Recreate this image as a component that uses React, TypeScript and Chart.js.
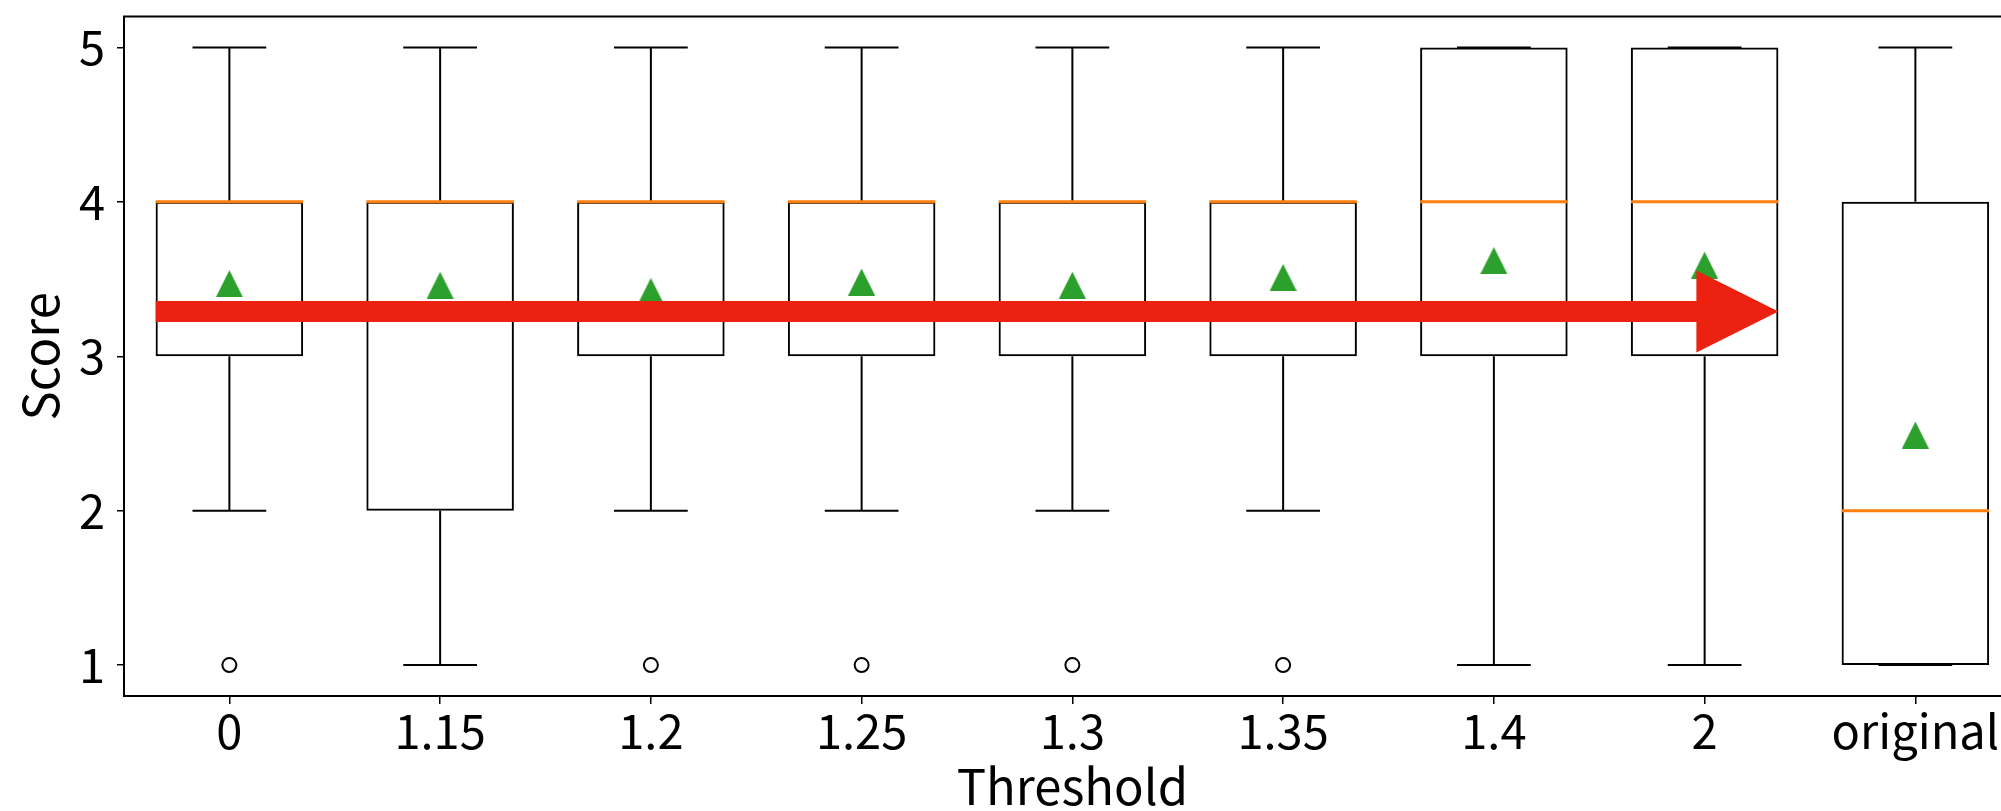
import React, { useEffect, useRef } from 'react';
import { Chart, registerables } from 'chart.js';

Chart.register(...registerables);

// ---- data ----
const CATEGORIES = ['0', '1.15', '1.2', '1.25', '1.3', '1.35', '1.4', '2', 'original'];
const WHISKER_LOW = [2, 1, 2, 2, 2, 2, 1, 1, 1];
const Q1 = [3, 2, 3, 3, 3, 3, 3, 3, 1];
const MEDIAN = [4, 4, 4, 4, 4, 4, 4, 4, 2];
const Q3 = [4, 4, 4, 4, 4, 4, 5, 5, 4];
const WHISKER_HIGH = [5, 5, 5, 5, 5, 5, 5, 5, 5];
const MEANS = [3.47, 3.46, 3.42, 3.48, 3.46, 3.51, 3.62, 3.59, 2.49];
const OUTLIERS = [[1], [], [1], [1], [1], [1], [], [], []];
const Y_TICKS = [1, 2, 3, 4, 5];
const ARROW_FROM = [-0.35, 3.29];
const ARROW_TO = [7.35, 3.29];

// ---- styles ----
const FONT = '"Noto Sans CJK JP", "Noto Sans", sans-serif';
const BOX_WIDTH = 0.7;
const CAP_WIDTH = 0.35;
const CANVAS_W = 2040;
const CANVAS_H = 811;
const PLOT_RIGHT = 2020.75;
const ORANGE = '#ff7f0e';
const GREEN = '#2ca02c';
const RED = '#ed2110';

function makeTriangle(size: number, color: string) {
  const c = document.createElement('canvas');
  c.width = size;
  c.height = size;
  const g = c.getContext('2d')!;
  g.fillStyle = color;
  g.beginPath();
  g.moveTo(size / 2, 0);
  g.lineTo(size, size);
  g.lineTo(0, size);
  g.closePath();
  g.fill();
  return c;
}

const overlayPlugin = {
  id: 'overlay',
  afterDatasetsDraw(chart: any) {
    const { ctx, chartArea: a, scales } = chart;
    const x = scales.x;
    const y = scales.y;
    ctx.save();
    ctx.strokeStyle = '#000';
    ctx.lineWidth = 2;
    ctx.strokeRect(a.left, a.top, a.right - a.left, a.bottom - a.top);

    const sx = x.getPixelForValue(ARROW_FROM[0]);
    const sy = y.getPixelForValue(ARROW_FROM[1]);
    const ex = x.getPixelForValue(ARROW_TO[0]);
    const half = 10.5;
    const headHalf = 41;
    const headLen = 82;
    ctx.fillStyle = RED;
    ctx.beginPath();
    ctx.moveTo(sx, sy - half);
    ctx.lineTo(ex - headLen, sy - half);
    ctx.lineTo(ex - headLen, sy - headHalf);
    ctx.lineTo(ex, sy);
    ctx.lineTo(ex - headLen, sy + headHalf);
    ctx.lineTo(ex - headLen, sy + half);
    ctx.lineTo(sx, sy + half);
    ctx.closePath();
    ctx.fill();
    ctx.restore();
  },
};

export default function App() {
  const ref = useRef<HTMLCanvasElement>(null);

  useEffect(() => {
    const canvas = ref.current;
    if (!canvas) return;

    const boxes = CATEGORIES.map((_, i) => ({ x: i, y: [Q1[i], Q3[i]] }));
    const whiskers = CATEGORIES.flatMap((_, i) => [
      { x: i, y: Q3[i] }, { x: i, y: WHISKER_HIGH[i] }, { x: i, y: null },
      { x: i, y: Q1[i] }, { x: i, y: WHISKER_LOW[i] }, { x: i, y: null },
    ]);
    const caps = CATEGORIES.flatMap((_, i) => [
      { x: i - CAP_WIDTH / 2, y: WHISKER_HIGH[i] }, { x: i + CAP_WIDTH / 2, y: WHISKER_HIGH[i] }, { x: i, y: null },
      { x: i - CAP_WIDTH / 2, y: WHISKER_LOW[i] }, { x: i + CAP_WIDTH / 2, y: WHISKER_LOW[i] }, { x: i, y: null },
    ]);
    const medians = CATEGORIES.flatMap((_, i) => [
      { x: i - BOX_WIDTH / 2, y: MEDIAN[i] }, { x: i + BOX_WIDTH / 2, y: MEDIAN[i] }, { x: i, y: null },
    ]);
    const fliers = OUTLIERS.flatMap((vals, i) => vals.map((v) => ({ x: i, y: v })));
    const means = MEANS.map((m, i) => ({ x: i, y: m }));

    const tickFont = { family: FONT, size: 47, lineHeight: 1 };
    const titleFont = { family: FONT, size: 49, lineHeight: 1 };

    const chart = new Chart(canvas, {
      type: 'bar',
      data: {
        datasets: [
          {
            type: 'bar',
            data: boxes as any,
            backgroundColor: 'rgba(0,0,0,0)',
            borderColor: '#000',
            borderWidth: 2,
            borderSkipped: false,
            barPercentage: BOX_WIDTH,
            categoryPercentage: 1,
            order: 6,
          },
          {
            type: 'line',
            data: whiskers as any,
            borderColor: '#000',
            borderWidth: 2,
            pointRadius: 0,
            spanGaps: false,
            order: 5,
          },
          {
            type: 'line',
            data: caps as any,
            borderColor: '#000',
            borderWidth: 2,
            pointRadius: 0,
            spanGaps: false,
            order: 4,
          },
          {
            type: 'line',
            data: medians as any,
            borderColor: ORANGE,
            borderWidth: 3,
            pointRadius: 0,
            spanGaps: false,
            order: 3,
          },
          {
            type: 'scatter',
            data: fliers as any,
            pointStyle: 'circle',
            pointRadius: 7,
            borderWidth: 2,
            borderColor: '#000',
            backgroundColor: 'rgba(0,0,0,0)',
            order: 2,
          },
          {
            type: 'scatter',
            data: means as any,
            pointStyle: makeTriangle(27, GREEN) as any,
            pointRadius: 13,
            order: 1,
          },
        ],
      },
      options: {
        responsive: false,
        animation: false,
        events: [],
        layout: { padding: { top: 16.5, left: 0, bottom: 0, right: CANVAS_W - PLOT_RIGHT } },
        plugins: { legend: { display: false }, tooltip: { enabled: false } },
        scales: {
          x: {
            type: 'linear',
            offset: false,
            min: -0.5,
            max: 8.5,
            afterBuildTicks: (s: any) => {
              s.ticks = CATEGORIES.map((_, i) => ({ value: i }));
            },
            afterFit: (s: any) => {
              s.height = 115;
              s.paddingLeft = 0;
              s.paddingRight = 0;
            },
            ticks: {
              callback: (v: any) => CATEGORIES[v] ?? '',
              autoSkip: false,
              maxRotation: 0,
              minRotation: 0,
              padding: 4,
              font: tickFont,
              color: '#000',
            },
            grid: {
              offset: false,
              drawOnChartArea: false,
              drawTicks: true,
              tickLength: 8,
              color: '#000',
              lineWidth: 1.5,
            },
            border: { display: false },
            title: { display: true, text: 'Threshold', font: titleFont, color: '#000', padding: 0 },
          },
          y: {
            type: 'linear',
            min: 0.8,
            max: 5.2,
            afterBuildTicks: (s: any) => {
              s.ticks = Y_TICKS.map((v) => ({ value: v }));
            },
            afterFit: (s: any) => {
              s.width = 124;
              s.paddingTop = 0;
              s.paddingBottom = 0;
            },
            ticks: { padding: 12, font: tickFont, color: '#000' },
            grid: { drawOnChartArea: false, drawTicks: true, tickLength: 7, color: '#000', lineWidth: 1.5 },
            border: { display: false },
            title: { display: true, text: 'Score', font: titleFont, color: '#000', padding: { top: 16, bottom: 0 } },
          },
        },
      } as any,
      plugins: [overlayPlugin],
    });

    return () => chart.destroy();
  }, []);

  return (
    <div
      style={{
        position: 'fixed',
        left: 0,
        top: 0,
        width: 2001,
        height: 811,
        overflow: 'hidden',
        background: '#fff',
      }}
    >
      <canvas ref={ref} width={CANVAS_W} height={CANVAS_H} style={{ display: 'block' }} />
    </div>
  );
}
